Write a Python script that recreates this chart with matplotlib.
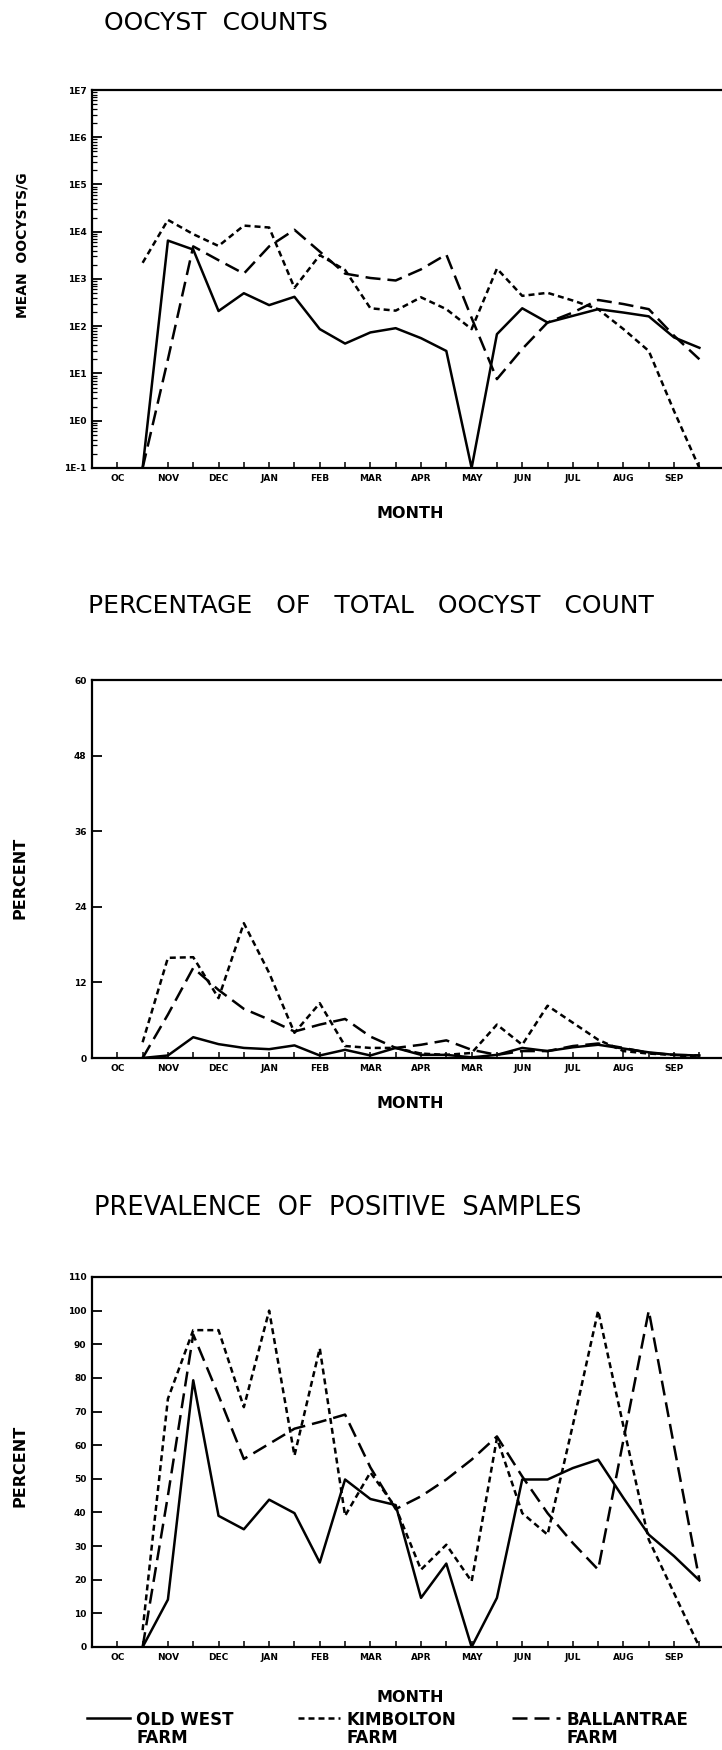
import math

import matplotlib
matplotlib.use("Agg")
import matplotlib.pyplot as plt
from matplotlib.lines import Line2D
from matplotlib.ticker import FixedLocator, FuncFormatter, LogLocator, NullFormatter

# half-month sampling slots (slot 1 = OC label, slot 3 = NOV, ...)
slots = [2, 3, 4, 5, 6, 7, 8, 9, 10, 11, 12, 13, 14, 15, 16, 17, 18, 19, 20, 21, 22, 23, 24]
label_slots = [1, 3, 5, 7, 9, 11, 13, 15, 17, 19, 21, 23]
months = ["OC", "NOV", "DEC", "JAN", "FEB", "MAR", "APR", "MAY", "JUN", "JUL", "AUG", "SEP"]
months_mid = ["OC", "NOV", "DEC", "JAN", "FEB", "MAR", "APR", "MAR", "JUN", "JUL", "AUG", "SEP"]

farms = ["OLD WEST\nFARM", "KIMBOLTON\nFARM", "BALLANTRAE\nFARM"]

# mean oocysts per gram (zero counts plotted at 1E-1)
counts_old_west = [0.1, 6500, 4200, 210, 500, 280, 420, 87, 43, 74, 91, 56,
                   30, 0.1, 68, 240, 120, 166, 230, 195, 162, 58, 35]
counts_kimbolton = [2200, 17800, 8900, 5000, 13500, 12300, 650, 3200, 1550, 240, 214, 410,
                    230, 87, 1660, 440, 510, 350, 230, 87, 30, 1.6, 0.1]
counts_ballantrae = [0.1, 20, 4900, 2500, 1300, 4900, 11000, 3800, 1300, 1050, 930, 1600,
                     3300, 150, 7.6, 33, 120, 195, 360, 295, 230, 63, 20]

# percentage of total oocyst count
pct_old_west = [0, 0.4, 3.3, 2.2, 1.6, 1.4, 2.0, 0.4, 1.3, 0.4, 1.6, 0.5,
                0.5, 0.1, 0.5, 1.6, 1.1, 1.7, 2.1, 1.5, 0.9, 0.5, 0.4]
pct_kimbolton = [2.5, 15.9, 16.0, 9.5, 21.4, 13.5, 4.0, 8.7, 1.9, 1.6, 1.6, 0.7,
                 0.5, 0.8, 5.3, 2.1, 8.3, 5.6, 2.9, 1.1, 0.7, 0.5, 0.0]
pct_ballantrae = [0, 6.9, 14.3, 10.8, 7.8, 6.1, 4.2, 5.3, 6.2, 3.4, 1.6, 2.1,
                  2.8, 1.3, 0.5, 1.1, 1.1, 1.9, 2.3, 1.6, 0.8, 0.5, 0.4]

# prevalence of positive samples (%)
prev_old_west = [0, 14.1, 79.3, 39.0, 35.0, 43.8, 39.8, 25.1, 49.8, 44.0, 42.2, 14.6,
                 24.8, 0, 14.6, 49.8, 49.8, 53.2, 55.7, 44.3, 33.4, 27.0, 19.8]
prev_kimbolton = [5, 73.8, 94.2, 94.2, 71.3, 100, 56.9, 88.8, 39.0, 51.9, 41.5, 23.0,
                  30.4, 19.5, 62.1, 39.8, 33.4, 66, 100, 65.6, 31.9, 16, 0]
prev_ballantrae = [0, 45, 92.9, 74.8, 55.9, 60.4, 64.9, 66.9, 69.1, 53.4, 41, 44.8,
                   49.8, 55.7, 62.6, 50.7, 39.8, 30.9, 23.0, 61.6, 100, 59.7, 20]

pct_ticks = [0, 12, 24, 36, 48, 60]
prev_ticks = [0, 10, 20, 30, 40, 50, 60, 70, 80, 90, 100, 110]

W, H = 722, 1750
LW = 1.8
STYLES = [
    {"linestyle": "-"},
    {"linestyle": (0, (2.4, 1.6))},
    {"linestyle": (0, (6.0, 2.8))},
]
TICK_FONT = {"family": "DejaVu Sans", "weight": "bold", "size": 6.5}


def fx(px):
    return px / W


def fy(py):
    return 1 - py / H


def style_axes(ax, labels):
    ax.set_xlim(0, 26)
    for side in ("left", "bottom", "top"):
        ax.spines[side].set_linewidth(1.6)
    ax.spines["right"].set_visible(False)
    ax.xaxis.set_major_locator(FixedLocator(list(range(1, 26))))
    tick_text = {s: lab for s, lab in zip(label_slots, labels)}
    ax.xaxis.set_major_formatter(FuncFormatter(lambda v, p: tick_text.get(int(round(v)), "")))
    ax.tick_params(axis="x", direction="in", length=4, width=1.1, pad=4, top=False)
    ax.tick_params(axis="y", which="major", direction="in", length=7, width=1.3, pad=4)
    for lab in ax.get_xticklabels() + ax.get_yticklabels():
        lab.set_fontproperties(TICK_FONT)


def draw_series(ax, series):
    for vals, st in zip(series, STYLES):
        ax.plot(slots, vals, color="black", linewidth=LW, **st)


def main():
    fig = plt.figure(figsize=(W / 100, H / 100), dpi=100)
    fig.patch.set_facecolor("white")

    ax_w = 658 / W
    ax1 = fig.add_axes([fx(92), fy(468), ax_w, 378 / H])
    ax2 = fig.add_axes([fx(92), fy(1058), ax_w, 378 / H])
    ax3 = fig.add_axes([fx(92), fy(1647), ax_w, 370 / H])

    # --- oocyst counts (log) ---
    draw_series(ax1, [counts_old_west, counts_kimbolton, counts_ballantrae])
    ax1.set_yscale("log")
    ax1.set_ylim(0.1, 1e7)
    ax1.yaxis.set_major_locator(LogLocator(base=10, numticks=20))
    ax1.yaxis.set_minor_locator(LogLocator(base=10, subs=range(2, 10), numticks=20))
    ax1.yaxis.set_minor_formatter(NullFormatter())
    ax1.yaxis.set_major_formatter(FuncFormatter(lambda v, p: "1E%d" % round(math.log10(v))))
    ax1.tick_params(axis="y", which="minor", direction="in", length=3.5, width=0.9)
    style_axes(ax1, months)

    # --- percentage of total ---
    draw_series(ax2, [pct_old_west, pct_kimbolton, pct_ballantrae])
    ax2.set_ylim(0, 60)
    ax2.set_yticks(pct_ticks)
    style_axes(ax2, months_mid)

    # --- prevalence ---
    draw_series(ax3, [prev_old_west, prev_kimbolton, prev_ballantrae])
    ax3.set_ylim(0, 110)
    ax3.set_yticks(prev_ticks)
    style_axes(ax3, months)

    title_kw = {"family": "DejaVu Sans", "va": "center", "ha": "left"}
    fig.text(fx(104), fy(23), "OOCYST  COUNTS", size=18, **title_kw)
    fig.text(fx(88), fy(606), "PERCENTAGE   OF   TOTAL   OOCYST   COUNT", size=18, **title_kw)
    fig.text(fx(94), fy(1208), "PREVALENCE  OF  POSITIVE  SAMPLES", size=18.5, **title_kw)

    lab_kw = {"family": "DejaVu Sans", "weight": "bold", "va": "center", "ha": "center"}
    fig.text(fx(23), fy(245), "MEAN  OOCYSTS/G", rotation=90, size=10, **lab_kw)
    fig.text(fx(20), fy(878), "PERCENT", rotation=90, size=11.5, **lab_kw)
    fig.text(fx(20), fy(1466), "PERCENT", rotation=90, size=11.5, **lab_kw)
    for y in (513, 1104, 1697):
        fig.text(fx(410), fy(y), "MONTH", size=11.5, **lab_kw)

    # legend drawn under the last panel
    leg_x = [(87, 130), (298, 340), (512, 560)]
    for (x0, x1), st, name in zip(leg_x, STYLES, farms):
        fig.add_artist(Line2D([fx(x0), fx(x1)], [fy(1718), fy(1718)], color="black",
                              linewidth=LW, transform=fig.transFigure, **st))
        fig.text(fx(x1 + 6), fy(1729), name, family="DejaVu Sans", weight="bold",
                 size=12, va="center", ha="left", linespacing=0.95)

    fig.savefig("out.png", dpi=100, facecolor="white")
    plt.close(fig)


if __name__ == "__main__":
    main()
